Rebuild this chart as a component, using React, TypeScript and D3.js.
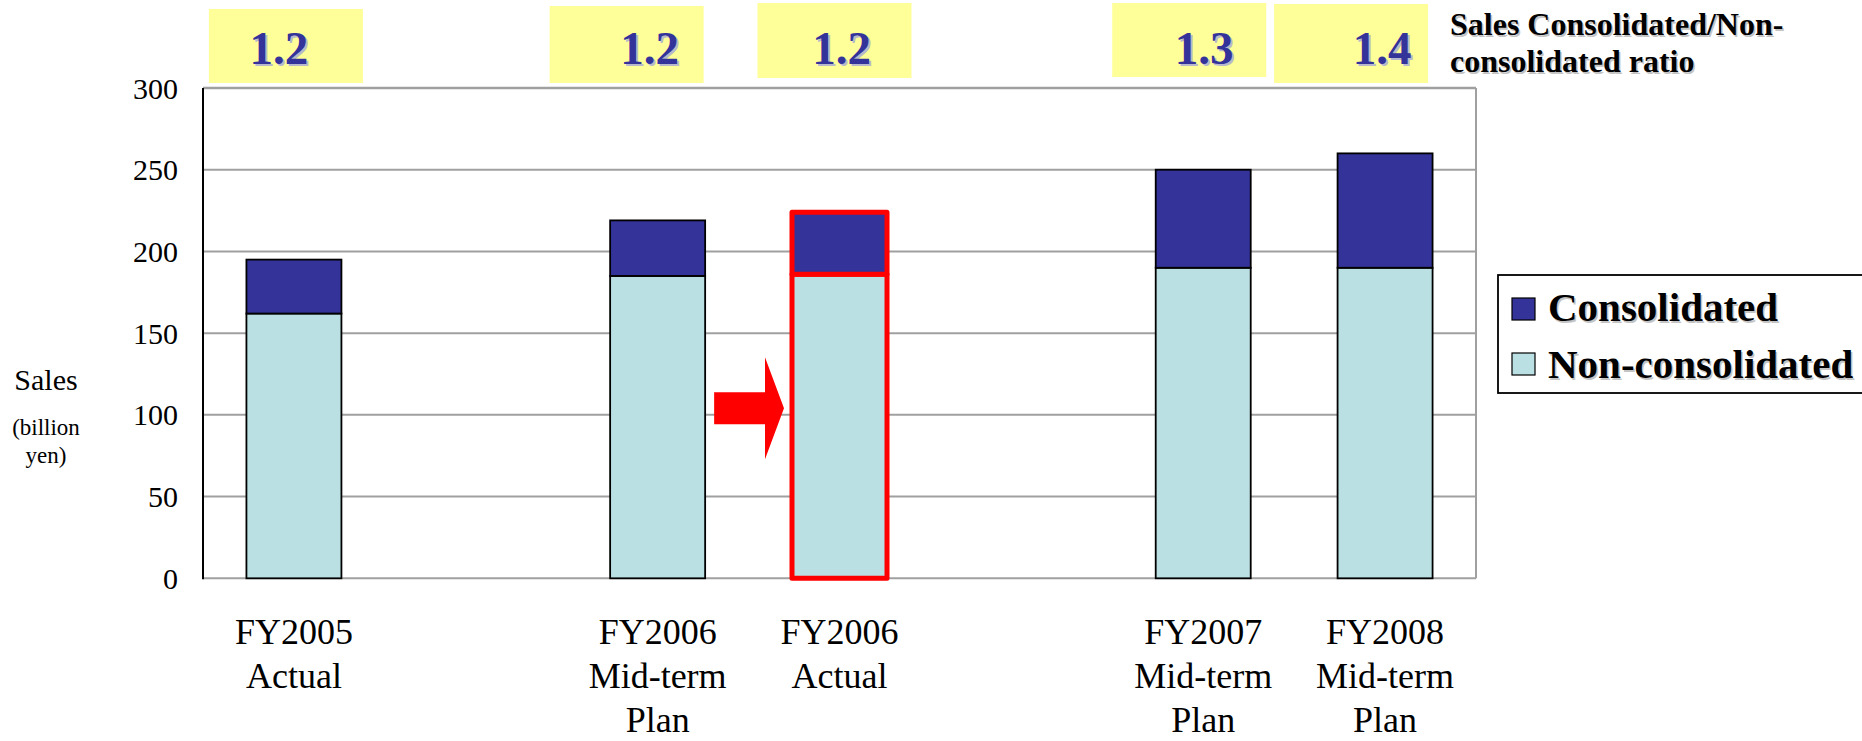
import React from "react";
import * as d3 from "d3";

// Horizontal slots: two empty slots separate the groups of bars.
const slots = [
  "FY2005 Actual",
  "gap-a",
  "FY2006 Mid-term Plan",
  "FY2006 Actual",
  "gap-b",
  "FY2007 Mid-term Plan",
  "FY2008 Mid-term Plan",
];
const categories = [
  "FY2005 Actual",
  "FY2006 Mid-term Plan",
  "FY2006 Actual",
  "FY2007 Mid-term Plan",
  "FY2008 Mid-term Plan",
];
const categoryLines = [
  ["FY2005", "Actual"],
  ["FY2006", "Mid-term", "Plan"],
  ["FY2006", "Actual"],
  ["FY2007", "Mid-term", "Plan"],
  ["FY2008", "Mid-term", "Plan"],
];
// Sales, billion yen
const nonConsolidated = [162, 185, 186, 190, 190];
const consolidated = [33, 34, 38, 60, 70];
const yTicks = [0, 50, 100, 150, 200, 250, 300];
const highlighted = "FY2006 Actual";
const seriesNames = ["Consolidated", "Non-consolidated"];

// Placement of the yellow ratio boxes relative to each bar's centre.
const ratioBoxLayout = [
  { dx: -85, top: 9, bottom: 83, tdx: -15 },
  { dx: -108, top: 6, bottom: 83, tdx: -8 },
  { dx: -82, top: 3, bottom: 78, tdx: 2 },
  { dx: -91, top: 3, bottom: 77, tdx: 1 },
  { dx: -111, top: 4, bottom: 83, tdx: -3 },
];

const W = 1862;
const H = 741;
const plot = { left: 203, right: 1476, top: 88, bottom: 578.3 };

const COL_CONS = "#333399";
const COL_NON = "#BBE0E3";
const COL_GRID = "#a0a0a0";
const SERIF = "'Liberation Serif', 'Times New Roman', Times, serif";

export default function App() {
  const x = d3
    .scaleBand<string>()
    .domain(slots)
    .range([plot.left, plot.right])
    .paddingInner(0.4776)
    .paddingOuter(0.2388);
  const y = d3.scaleLinear().domain([0, 300]).range([plot.bottom, plot.top]);
  const bw = x.bandwidth();

  const rows = categories.map((c, i) => ({
    cat: c,
    non: nonConsolidated[i],
    cons: consolidated[i],
  }));
  const stack = d3.stack<any>().keys(["non", "cons"]);
  const layers = stack(rows);
  const fill: Record<string, string> = { non: COL_NON, cons: COL_CONS };

  const fmt = d3.format(".1f");
  const ratios = rows.map((r) => fmt((r.non + r.cons) / r.non));

  // Arrow pointing from the plan bar to the actual bar
  const hiIdx = categories.indexOf(highlighted);
  const prevX = (x(categories[hiIdx - 1]) as number) + bw;
  const hiX = x(highlighted) as number;
  const ay = y(104);
  const ax0 = prevX + 9;
  const ax1 = hiX - 8;
  const headX = ax1 - 19;
  const arrow = [
    [ax0, ay - 16],
    [headX, ay - 16],
    [headX, ay - 51],
    [ax1, ay],
    [headX, ay + 51],
    [headX, ay + 16],
    [ax0, ay + 16],
  ];

  return (
    <svg
      width={W}
      height={H}
      style={{ position: "absolute", left: 0, top: 0, background: "#fff" }}
      fontFamily={SERIF}
    >
      {/* ratio boxes */}
      {rows.map((r, i) => {
        const cx = (x(r.cat) as number) + bw / 2;
        const L = ratioBoxLayout[i];
        return (
          <g key={"ratio" + i}>
            <rect
              x={cx + L.dx}
              y={L.top}
              width={154}
              height={L.bottom - L.top}
              fill="#FFFF99"
            />
            <text
              x={cx + L.tdx + 2}
              y={66}
              textAnchor="middle"
              fontSize={47}
              fontWeight="bold"
              fill="#b8b8cc"
            >
              {ratios[i]}
            </text>
            <text
              x={cx + L.tdx}
              y={64}
              textAnchor="middle"
              fontSize={47}
              fontWeight="bold"
              fill={COL_CONS}
            >
              {ratios[i]}
            </text>
          </g>
        );
      })}

      {/* ratio title */}
      {["Sales Consolidated/Non-", "consolidated ratio"].map((t, i) => (
        <g key={"title" + i}>
          <text x={1451.5} y={36.5 + i * 37} fontSize={32} fontWeight="bold" fill="#c4c4c4">
            {t}
          </text>
          <text x={1450} y={35 + i * 37} fontSize={32} fontWeight="bold" fill="#000">
            {t}
          </text>
        </g>
      ))}

      {/* gridlines */}
      {yTicks.map((t) => (
        <line
          key={"g" + t}
          x1={plot.left}
          x2={plot.right}
          y1={y(t)}
          y2={y(t)}
          stroke={COL_GRID}
          strokeWidth={t === 300 ? 2.5 : 2}
        />
      ))}
      <line
        x1={plot.right}
        x2={plot.right}
        y1={plot.top}
        y2={plot.bottom}
        stroke={COL_GRID}
        strokeWidth={2}
      />
      <line
        x1={plot.left}
        x2={plot.left}
        y1={plot.top}
        y2={plot.bottom + 1}
        stroke="#000"
        strokeWidth={2}
      />

      {/* y tick labels */}
      {yTicks.map((t) => (
        <text
          key={"yt" + t}
          x={178}
          y={y(t) + 10.5}
          textAnchor="end"
          fontSize={30}
          fill="#000"
        >
          {t}
        </text>
      ))}

      {/* y axis title */}
      <text x={46} y={390} textAnchor="middle" fontSize={30}>
        Sales
      </text>
      <text x={46} y={435} textAnchor="middle" fontSize={23}>
        (billion
      </text>
      <text x={46} y={463} textAnchor="middle" fontSize={23}>
        yen)
      </text>

      {/* stacked bars */}
      {layers.map((layer) =>
        layer.map((d, i) => {
          const cat = categories[i];
          if (cat === highlighted) return null;
          return (
            <rect
              key={layer.key + cat}
              x={x(cat)}
              y={y(d[1])}
              width={bw}
              height={y(d[0]) - y(d[1])}
              fill={fill[layer.key]}
              stroke="#000"
              strokeWidth={1.8}
            />
          );
        })
      )}
      {/* highlighted bar */}
      {layers.map((layer) =>
        layer.map((d, i) => {
          const cat = categories[i];
          if (cat !== highlighted) return null;
          return (
            <rect
              key={"hi" + layer.key}
              x={x(cat)}
              y={y(d[1])}
              width={bw}
              height={y(d[0]) - y(d[1])}
              fill={fill[layer.key]}
              stroke="#FF0000"
              strokeWidth={5}
              strokeLinejoin="round"
            />
          );
        })
      )}

      {/* arrow */}
      <polygon points={arrow.map((p) => p.join(",")).join(" ")} fill="#FF0000" />

      {/* category labels */}
      {categories.map((c, i) => {
        const cx = (x(c) as number) + bw / 2;
        return (
          <text key={"xl" + c} textAnchor="middle" fontSize={36} fill="#000">
            {categoryLines[i].map((ln, j) => (
              <tspan key={j} x={cx} y={644 + j * 44}>
                {ln}
              </tspan>
            ))}
          </text>
        );
      })}

      {/* legend */}
      <rect
        x={1498}
        y={275}
        width={400}
        height={118}
        fill="#fff"
        stroke="#000"
        strokeWidth={1.8}
      />
      {seriesNames.map((s, i) => (
        <g key={"lg" + s}>
          <rect
            x={1512}
            y={298 + i * 55}
            width={23}
            height={22}
            fill={i === 0 ? COL_CONS : COL_NON}
            stroke="#000"
            strokeWidth={1.2}
          />
          <text x={1549.5} y={322.5 + i * 57} fontSize={41} fontWeight="bold" fill="#c4c4c4">
            {s}
          </text>
          <text x={1548} y={321 + i * 57} fontSize={41} fontWeight="bold" fill="#000">
            {s}
          </text>
        </g>
      ))}
    </svg>
  );
}
